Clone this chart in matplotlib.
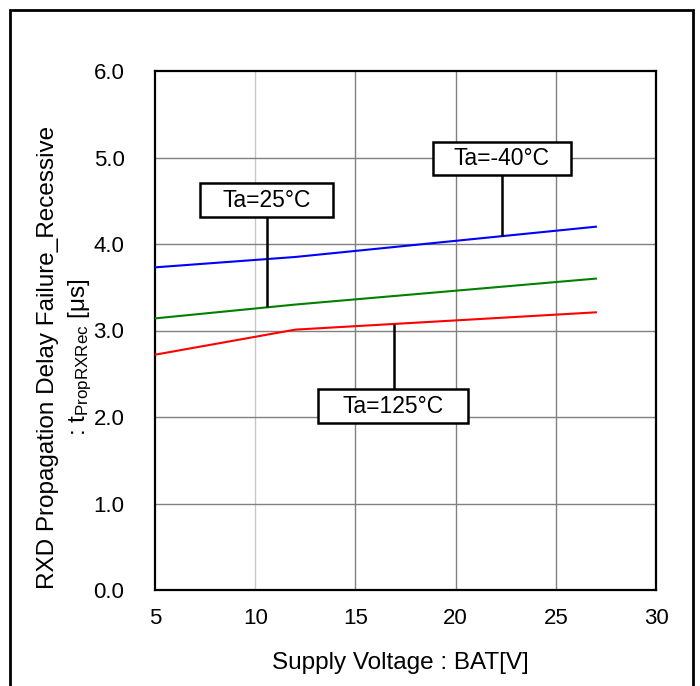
import matplotlib
matplotlib.use("Agg")
import matplotlib.pyplot as plt
from matplotlib.patches import Rectangle

plt.rcParams['font.family'] = ['Liberation Sans', 'DejaVu Sans']
plt.rcParams['mathtext.fontset'] = 'custom'
plt.rcParams['mathtext.rm'] = 'Liberation Sans'
plt.rcParams['mathtext.it'] = 'Liberation Sans'

# Supply voltage points [V] and propagation delay [us]
vbat = [5, 12, 27]
t_m40 = [3.73, 3.85, 4.20]
t_25 = [3.14, 3.30, 3.60]
t_125 = [2.72, 3.01, 3.21]

x_ticks = [5, 10, 15, 20, 25, 30]
y_ticks = [0.0, 1.0, 2.0, 3.0, 4.0, 5.0, 6.0]

fig = plt.figure(figsize=(7.0, 6.86), dpi=100)
ax = fig.add_axes([155 / 700, 1 - 590 / 686, (656 - 155) / 700, (590 - 71) / 686])

# grid
for xv in x_ticks[1:-1]:
    ax.axvline(xv, color='#c8c8c8' if xv == 10 else '#808080', lw=1.0, zorder=0)
for yv in y_ticks[1:-1]:
    ax.axhline(yv, color='#808080', lw=1.0, zorder=0)

ax.plot(vbat, t_m40, color='#0000ff', lw=1.5, zorder=3)
ax.plot(vbat, t_25, color='#008000', lw=1.5, zorder=3)
ax.plot(vbat, t_125, color='#ff0000', lw=1.5, zorder=3)

ax.set_xlim(5, 30)
ax.set_ylim(0, 6)
ax.set_xticks(x_ticks)
ax.set_yticks(y_ticks)
ax.set_xticklabels([str(v) for v in x_ticks])
ax.set_yticklabels([f"{v:.1f}" for v in y_ticks])
ax.tick_params(length=0, labelsize=16)
ax.tick_params(axis='x', pad=13)
ax.tick_params(axis='y', pad=22)
for s in ax.spines.values():
    s.set_linewidth(1.6)
    s.set_color('black')


def interp(xs, ys, x):
    for i in range(len(xs) - 1):
        if xs[i] <= x <= xs[i + 1]:
            return ys[i] + (ys[i + 1] - ys[i]) * (x - xs[i]) / (xs[i + 1] - xs[i])
    return ys[-1]


# label boxes: (text, series, leader x, box x0, box x1, box y0, box y1)
labels = [
    ("Ta=-40°C", t_m40, 22.3, 18.87, 25.76, 4.80, 5.18),
    ("Ta=25°C", t_25, 10.6, 7.25, 13.88, 4.31, 4.70),
    ("Ta=125°C", t_125, 16.95, 13.13, 20.62, 1.93, 2.32),
]
for text, series, xv, x0, x1, y0, y1 in labels:
    yc = interp(vbat, series, xv)
    edge = y0 if yc < y0 else y1
    ax.plot([xv, xv], [edge, yc], color='black', lw=1.8, zorder=4,
            solid_capstyle='butt')
    ax.add_patch(Rectangle((x0, y0), x1 - x0, y1 - y0, fc='white', ec='black',
                           lw=1.8, zorder=5))
    ax.text((x0 + x1) / 2, (y0 + y1) / 2, text, ha='center', va='center',
            fontsize=16.5, zorder=6)

fig.text(400 / 700, 1 - 663 / 686, "Supply Voltage : BAT[V]",
         ha='center', va='center', fontsize=17.5)
fig.text(48 / 700, 1 - 357 / 686, "RXD Propagation Delay Failure_Recessive",
         rotation=90, ha='center', va='center', fontsize=17.5)
fig.text(80 / 700, 1 - 357 / 686, r": t$_{\mathrm{PropRXRec}}$ [μs]",
         rotation=90, ha='center', va='center', fontsize=17.5)

# outer frame
fig.patches.append(Rectangle((10 / 700, -0.05), (693 - 10) / 700, 1 - 10 / 686 + 0.05,
                             transform=fig.transFigure, fill=False, ec='black',
                             lw=2.0, clip_on=False))

fig.savefig("out.png", dpi=100)
